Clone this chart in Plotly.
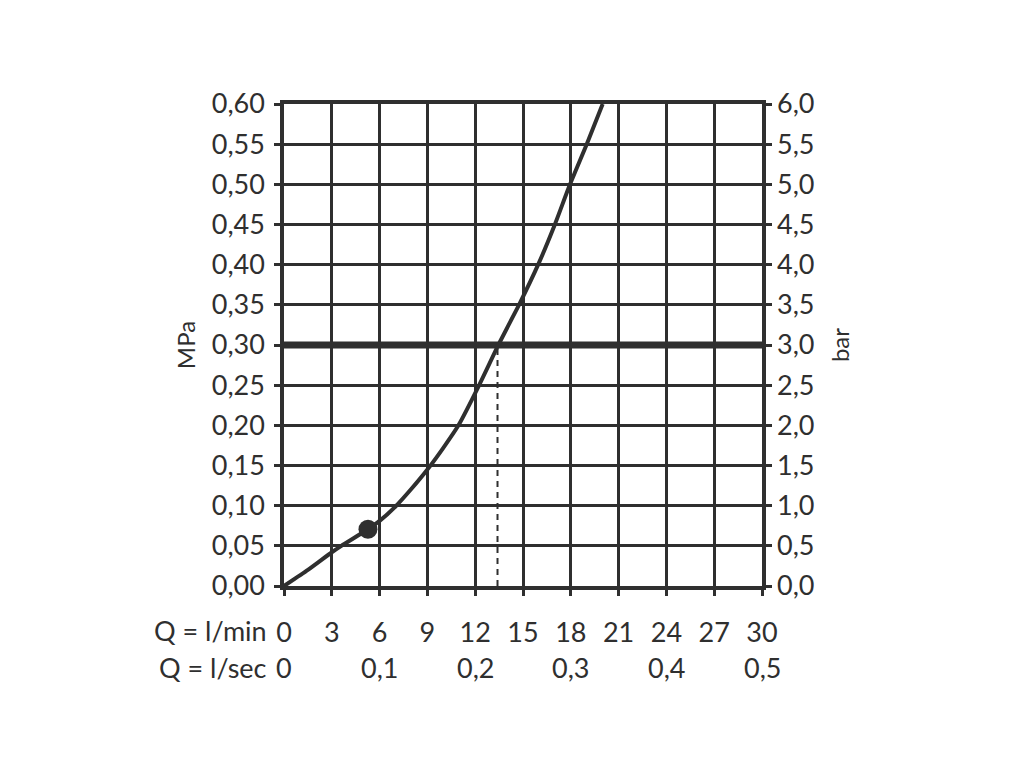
import plotly.graph_objects as go

# Flow (l/min) vs pressure (MPa) curve
flow_lpm = [0, 1.5, 3, 3.6, 5.27, 6, 7, 8, 9, 10, 10.95, 12.25, 13.45, 14.75, 15.95, 17.0, 17.95, 19.0, 20.0]
pressure_mpa = [0, 0.02, 0.042, 0.05, 0.0706, 0.081, 0.099, 0.121, 0.145, 0.172, 0.20, 0.25, 0.30,
                0.35, 0.40, 0.45, 0.50, 0.55, 0.60]

# Marked operating point
marker_q = [5.27]
marker_p = [0.0706]

# Reference pressure line and the flow at that pressure
ref_pressure = 0.30
ref_flow = 13.4

# Tick labels
x_ticks_lpm = [0, 3, 6, 9, 12, 15, 18, 21, 24, 27, 30]
lsec_pos = [0, 6, 12, 18, 24, 30]
lsec_labels = ["0", "0,1", "0,2", "0,3", "0,4", "0,5"]
y_ticks_mpa = [round(i * 0.05, 2) for i in range(13)]
y_ticks_bar = [round(i * 0.5, 1) for i in range(13)]

INK = "#2f2f2f"
FONT = "Lato"
FS = 27

fig = go.Figure()

# thick reference line at 0.30 MPa
fig.add_trace(go.Scatter(x=[0, 30], y=[ref_pressure, ref_pressure], mode="lines",
                         line=dict(color=INK, width=7), hoverinfo="skip", showlegend=False))
# dashed vertical
fig.add_trace(go.Scatter(x=[ref_flow, ref_flow], y=[0, ref_pressure], mode="lines",
                         line=dict(color=INK, width=2, dash="6px,5px"), hoverinfo="skip", showlegend=False))
# curve
fig.add_trace(go.Scatter(x=flow_lpm, y=pressure_mpa, mode="lines",
                         line=dict(color=INK, width=4, shape="spline", smoothing=0.5),
                         showlegend=False))
# point
fig.add_trace(go.Scatter(x=marker_q, y=marker_p, mode="markers",
                         marker=dict(color=INK, size=19), showlegend=False))
# invisible trace for bar axis
fig.add_trace(go.Scatter(x=flow_lpm, y=[p * 10 for p in pressure_mpa], yaxis="y2",
                         mode="lines", line=dict(width=0), opacity=0,
                         hoverinfo="skip", showlegend=False))

fig.update_layout(
    width=1024, height=768,
    margin=dict(l=276, r=270, t=96, b=190),
    paper_bgcolor="white", plot_bgcolor="white",
    separators=",.",
    font=dict(family=FONT, size=FS, color=INK),
    xaxis=dict(range=[0, 30], tickvals=x_ticks_lpm, ticktext=[str(v) for v in x_ticks_lpm],
               showgrid=True, gridcolor=INK, gridwidth=2.5,
               showline=True, linecolor=INK, linewidth=3.5, mirror=True,
               ticks="outside", ticklen=6, tickwidth=2.5, tickcolor=INK,
               ticklabelstandoff=14, zeroline=False),
    yaxis=dict(range=[0, 0.6], tickvals=y_ticks_mpa, tickformat=".2f",
               showgrid=True, gridcolor=INK, gridwidth=2.5,
               showline=True, linecolor=INK, linewidth=3.5, mirror="ticks",
               ticks="outside", ticklen=6, tickwidth=2.5, tickcolor=INK,
               ticklabelstandoff=4, zeroline=False,
               title=dict(text="MPa", standoff=10, font=dict(size=FS - 3))),
    yaxis2=dict(range=[0, 6], overlaying="y", side="right", tickvals=y_ticks_bar,
                tickformat=".1f", showgrid=False, showline=False, ticks="",
                ticklabelstandoff=14, zeroline=False,
                title=dict(text="bar", standoff=18, font=dict(size=FS - 3))),
)

annotations = []
annotations.append(dict(x=0, y=0, xref="x", yref="paper", text="Q = l/min", showarrow=False,
                        xanchor="right", yanchor="middle", xshift=-15, yshift=-44,
                        font=dict(family=FONT, size=FS, color=INK)))
annotations.append(dict(x=0, y=0, xref="x", yref="paper", text="Q = l/sec", showarrow=False,
                        xanchor="right", yanchor="middle", xshift=-15, yshift=-81,
                        font=dict(family=FONT, size=FS, color=INK)))
for pos, lab in zip(lsec_pos, lsec_labels):
    annotations.append(dict(x=pos, y=0, xref="x", yref="paper", text=lab, showarrow=False,
                            xanchor="center", yanchor="middle", yshift=-81,
                            font=dict(family=FONT, size=FS, color=INK)))
fig.update_layout(annotations=annotations)

fig.write_html("out.html")
